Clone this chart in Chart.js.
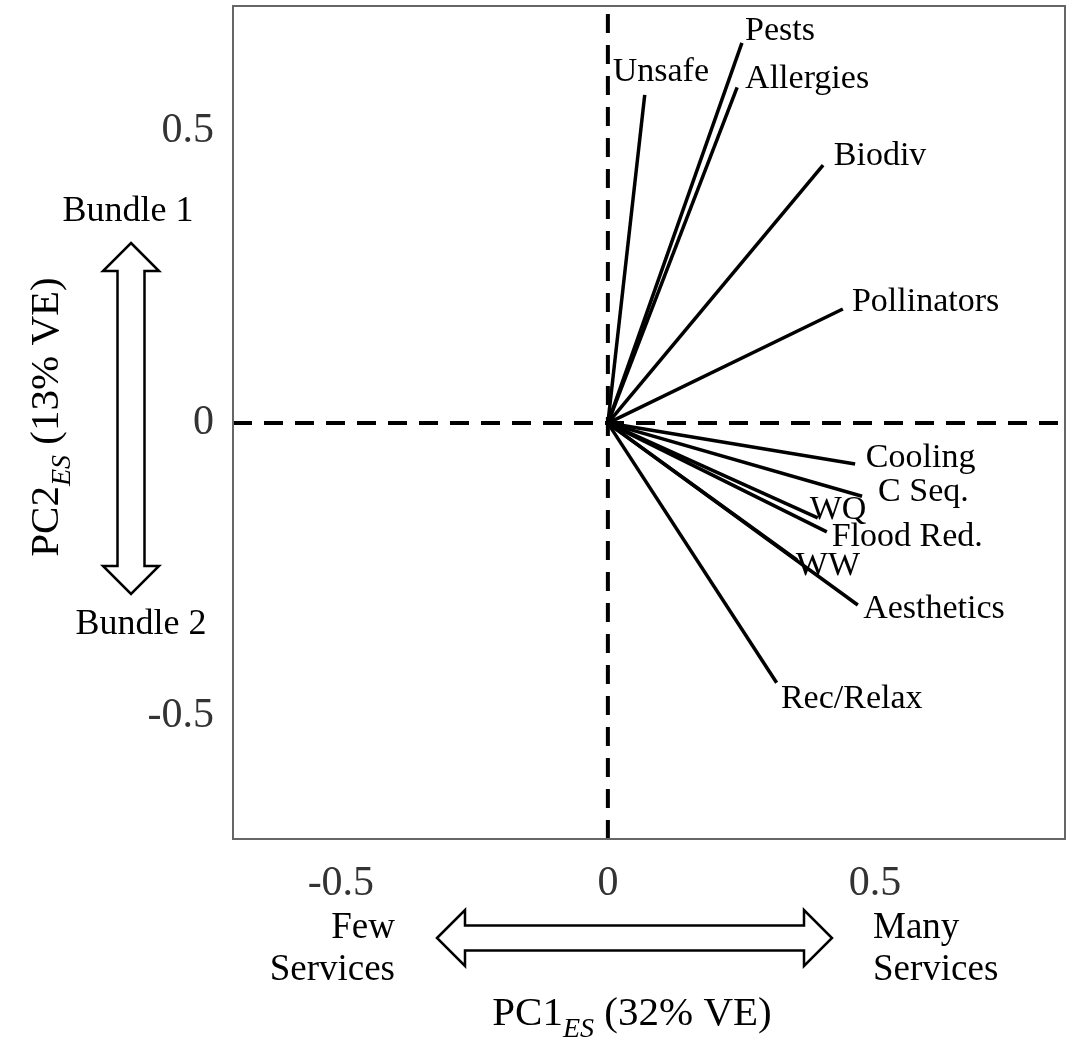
<!DOCTYPE html>
<html>
<head>
<meta charset="utf-8">
<script src="https://cdn.jsdelivr.net/npm/chart.js@4.4.0/dist/chart.umd.min.js"></script>
<style>
	body { margin: 0; background: #fff; }
	#wrap { width: 1076px; height: 1043px; }
</style>
</head>
<body>
<div id="wrap"><canvas id="myChart"></canvas></div>
<script>
var myChart = null;

// loadings (PC1, PC2) of each ecosystem service
const servicios = ['Pests', 'Allergies', 'Unsafe', 'Biodiv', 'Pollinators', 'Cooling', 'C Seq.', 'WQ', 'Flood Red.', 'WW', 'Aesthetics', 'Rec/Relax'];
const pc1 = [0.251, 0.242, 0.069, 0.403, 0.440, 0.463, 0.476, 0.393, 0.410, 0.354, 0.468, 0.316];
const pc2 = [0.650, 0.574, 0.561, 0.441, 0.195, -0.070, -0.125, -0.162, -0.186, -0.234, -0.311, -0.444];

// where each name sits (data units)
const labelX = [0.257, 0.257, 0.009, 0.423, 0.457, 0.483, 0.506, 0.378, 0.419, 0.352, 0.478, 0.324];
const labelY = [0.670, 0.588, 0.600, 0.456, 0.207, -0.060, -0.118, -0.149, -0.195, -0.244, -0.318, -0.472];

const xTicks = [-0.5, 0, 0.5];
const yTicks = [-0.5, 0, 0.5];
const xMin = -0.702, xMax = 0.856;
const yMin = -0.711, yMax = 0.713;

const fuente = "'Liberation Serif', 'Times New Roman', serif";

function flechaH(ctx, x1, x2, yc, cabeza, alto, ancho) {
	ctx.beginPath();
	ctx.moveTo(x1, yc);
	ctx.lineTo(x1 + cabeza, yc - alto);
	ctx.lineTo(x1 + cabeza, yc - ancho);
	ctx.lineTo(x2 - cabeza, yc - ancho);
	ctx.lineTo(x2 - cabeza, yc - alto);
	ctx.lineTo(x2, yc);
	ctx.lineTo(x2 - cabeza, yc + alto);
	ctx.lineTo(x2 - cabeza, yc + ancho);
	ctx.lineTo(x1 + cabeza, yc + ancho);
	ctx.lineTo(x1 + cabeza, yc + alto);
	ctx.closePath();
	ctx.fillStyle = '#fff';
	ctx.fill();
	ctx.stroke();
}

function flechaV(ctx, y1, y2, xc, cabeza, alto, ancho) {
	ctx.beginPath();
	ctx.moveTo(xc, y1);
	ctx.lineTo(xc + alto, y1 + cabeza);
	ctx.lineTo(xc + ancho, y1 + cabeza);
	ctx.lineTo(xc + ancho, y2 - cabeza);
	ctx.lineTo(xc + alto, y2 - cabeza);
	ctx.lineTo(xc, y2);
	ctx.lineTo(xc - alto, y2 - cabeza);
	ctx.lineTo(xc - ancho, y2 - cabeza);
	ctx.lineTo(xc - ancho, y1 + cabeza);
	ctx.lineTo(xc - alto, y1 + cabeza);
	ctx.closePath();
	ctx.fillStyle = '#fff';
	ctx.fill();
	ctx.stroke();
}

// text with a italic subscript, centred on x
function textoSub(ctx, parte1, sub, parte2, x, y, size) {
	let f1 = size + 'px ' + fuente;
	let f2 = 'italic ' + Math.round(size * 0.68) + 'px ' + fuente;
	ctx.font = f1;
	let w1 = ctx.measureText(parte1).width;
	let w3 = ctx.measureText(parte2).width;
	ctx.font = f2;
	let w2 = ctx.measureText(sub).width;
	let x0 = x - (w1 + w2 + w3) / 2;
	ctx.textAlign = 'left';
	ctx.textBaseline = 'alphabetic';
	ctx.font = f1;
	ctx.fillText(parte1, x0, y);
	ctx.font = f2;
	ctx.fillText(sub, x0 + w1, y + size * 0.3);
	ctx.font = f1;
	ctx.fillText(parte2, x0 + w1 + w2, y);
}

const adornos = {
	id: 'adornos',
	afterDatasetsDraw(chart) {
		let ctx = chart.ctx;
		let xs = chart.scales.x;
		let ys = chart.scales.y;
		let a = chart.chartArea;

		ctx.save();
		ctx.font = '34px ' + fuente;
		ctx.fillStyle = '#000';
		ctx.textAlign = 'left';
		ctx.textBaseline = 'middle';
		servicios.forEach(function (s, i) {
			ctx.fillText(s, xs.getPixelForValue(labelX[i]), ys.getPixelForValue(labelY[i]));
		});

		ctx.strokeStyle = '#666';
		ctx.lineWidth = 2;
		ctx.strokeRect(a.left, a.top, a.right - a.left, a.bottom - a.top);

		// arrows
		ctx.strokeStyle = '#000';
		ctx.lineWidth = 2.5;
		ctx.lineJoin = 'miter';
		flechaH(ctx, 437, 832, 938, 28, 28, 12.5);
		flechaV(ctx, 243, 594, 131, 28, 28, 13.5);

		ctx.fillStyle = '#000';
		ctx.font = '36px ' + fuente;
		ctx.textBaseline = 'middle';
		ctx.textAlign = 'center';
		ctx.fillText('Bundle 1', 128, 212);
		ctx.fillText('Bundle 2', 141, 625);
		ctx.font = '37px ' + fuente;
		ctx.textAlign = 'right';
		ctx.fillText('Few', 395, 928);
		ctx.fillText('Services', 395, 970);
		ctx.textAlign = 'left';
		ctx.fillText('Many', 873, 928);
		ctx.fillText('Services', 873, 970);

		textoSub(ctx, 'PC1', 'ES', ' (32% VE)', 632, 1025, 41);

		ctx.save();
		ctx.translate(58, 417);
		ctx.rotate(-Math.PI / 2);
		textoSub(ctx, 'PC2', 'ES', ' (13% VE)', 0, 0, 41);
		ctx.restore();

		ctx.restore();
	}
};

function crearBiplot() {

	if (myChart != null)
		myChart.destroy();

	let vectores = servicios.map(function (s, i) {
		return {
			label: s,
			data: [{ x: 0, y: 0 }, { x: pc1[i], y: pc2[i] }],
			showLine: true,
			borderColor: '#000',
			borderWidth: 3.5,
			pointRadius: 0,
			fill: false
		};
	});

	vectores.push({
		label: 'ejeX',
		data: [{ x: xMin, y: 0 }, { x: xMax, y: 0 }],
		showLine: true,
		borderColor: '#000',
		borderWidth: 4,
		borderDash: [19, 12],
		pointRadius: 0
	});
	vectores.push({
		label: 'ejeY',
		data: [{ x: 0, y: yMin }, { x: 0, y: yMax }],
		showLine: true,
		borderColor: '#000',
		borderWidth: 4,
		borderDash: [19, 12],
		pointRadius: 0
	});

	let canva = document.getElementById('myChart').getContext('2d');

	myChart = new Chart(canva, {
		type: 'scatter',
		data: { datasets: vectores },
		plugins: [adornos],
		options: {
			responsive: true,
			maintainAspectRatio: false,
			animation: false,
			layout: { padding: { top: 6, right: 11, left: 0, bottom: 0 } },
			plugins: {
				legend: { display: false },
				tooltip: { enabled: false }
			},
			scales: {
				x: {
					type: 'linear',
					min: xMin,
					max: xMax,
					afterBuildTicks: function (scale) {
						scale.ticks = xTicks.map(function (v) { return { value: v }; });
					},
					afterFit: function (scale) {
						scale.height = 204;
						scale.paddingLeft = 0;
						scale.paddingRight = 0;
					},
					grid: { display: false },
					border: { display: false },
					ticks: {
						padding: 12,
						color: '#333',
						font: { family: fuente, size: 42 },
						callback: function (v) { return String(v); }
					}
				},
				y: {
					type: 'linear',
					min: yMin,
					max: yMax,
					afterBuildTicks: function (scale) {
						scale.ticks = yTicks.map(function (v) { return { value: v }; });
					},
					afterFit: function (scale) {
						scale.width = 233;
						scale.paddingTop = 0;
						scale.paddingBottom = 0;
					},
					grid: { display: false },
					border: { display: false },
					ticks: {
						padding: 11,
						color: '#333',
						font: { family: fuente, size: 42 },
						callback: function (v) { return String(v); }
					}
				}
			}
		}
	});
}

crearBiplot();
</script>
</body>
</html>
